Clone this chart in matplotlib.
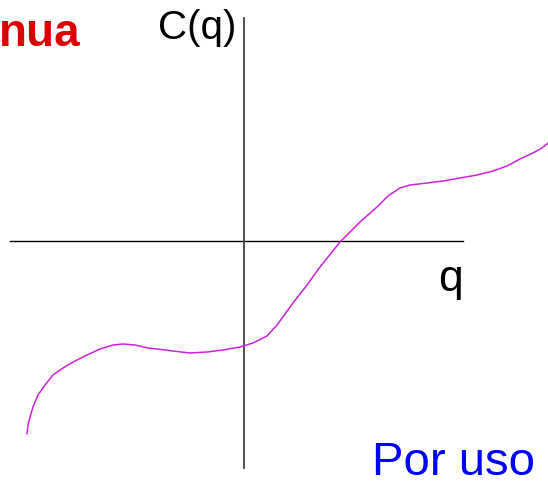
import matplotlib
matplotlib.use("Agg")
import matplotlib.pyplot as plt

plt.rcParams["font.family"] = ["Liberation Sans", "DejaVu Sans"]

# Sketch of a cost curve C(q); coordinates in pixels relative to the axes crossing
curve_q = [-217, -216, -214, -211, -206, -199, -191, -181, -169, -157,
           -144, -131, -121, -109, -96, -87, -71, -54, -37, -21,
           -4, 9, 23, 33, 41, 49, 63, 76, 96, 116,
           133, 144, 156, 166, 183, 199, 216, 233, 249, 263,
           276, 289, 298, 304]
curve_c = [-193, -184, -176, -166, -154, -144, -134, -127, -120, -114,
           -108, -104, -103, -104, -107, -108, -110, -112, -111, -109,
           -106, -102, -95, -84, -73, -62, -44, -26, -1, 19,
           34, 45, 53, 56, 58, 60, 63, 66, 70, 75,
           82, 88, 93, 98]

# axis extents (same pixel-relative units)
axis_h = (-234, 219)
axis_v = (-227, 223)

ORIGIN_X, ORIGIN_Y = 244, 241

fig = plt.figure(figsize=(5.48, 4.84), dpi=100)
ax = fig.add_axes([0, 0, 1, 1])
ax.set_xlim(-ORIGIN_X, 548 - ORIGIN_X)
ax.set_ylim(ORIGIN_Y - 484, ORIGIN_Y)
ax.axis("off")

ax.plot(axis_h, [0, 0], color="black", linewidth=1.0)
ax.plot([0, 0], axis_v, color="#444444", linewidth=1.3)
ax.plot(curve_q, curve_c, color="#cc22dd", linewidth=1.1,
        solid_capstyle="round", solid_joinstyle="round")

ax.text(-8, 213, "C(q)", fontsize=29, ha="right", va="center", color="black")
ax.text(207, -38, "q", fontsize=32, ha="center", va="center", color="black")
ax.text(-163, 207, "nua", fontsize=33, fontweight="bold", ha="right", va="center",
        color="#dd0000")
ax.text(210, -222, "Por uso", fontsize=34, ha="center", va="center", color="#0000ff")

fig.savefig("out.png", dpi=100)
